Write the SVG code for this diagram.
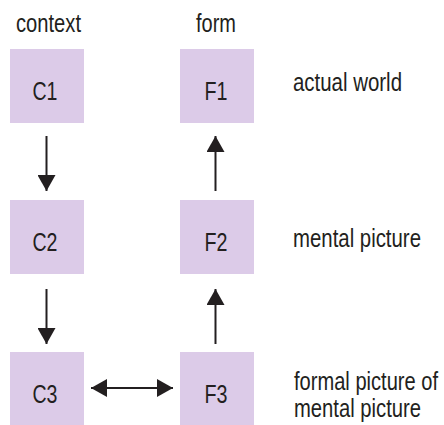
<svg xmlns="http://www.w3.org/2000/svg" width="444" height="425" viewBox="0 0 444 425">
<defs>
<style>
.box{fill:#dccbe8}
.lbl{font-family:"Liberation Sans",sans-serif;font-size:26px;fill:#231f20}
.nl{font-family:"Liberation Sans",sans-serif;font-size:25px;fill:#231f20;text-anchor:middle}
.conn{stroke:#231f20;stroke-width:2;fill:none}
</style>
<marker id="ah" viewBox="0 0 16 18" refX="16" refY="9" markerWidth="16" markerHeight="18" markerUnits="userSpaceOnUse" orient="auto-start-reverse">
<path d="M0,0 L16,9 L0,18 Z" fill="#231f20"/>
</marker>
</defs>
<rect width="444" height="425" fill="#ffffff"/>
<g transform="translate(16,32) scale(0.77,1)"><text class="lbl" x="0" y="0" textLength="84.4" lengthAdjust="spacingAndGlyphs">context</text></g>
<g transform="translate(196,32) scale(0.77,1)"><text class="lbl" x="0" y="0" textLength="51.9" lengthAdjust="spacingAndGlyphs">form</text></g>
<g transform="translate(293,91) scale(0.77,1)"><text class="lbl" x="0" y="0" textLength="141.6" lengthAdjust="spacingAndGlyphs">actual world</text></g>
<g transform="translate(293,247) scale(0.77,1)"><text class="lbl" x="0" y="0" textLength="166.2" lengthAdjust="spacingAndGlyphs">mental picture</text></g>
<g transform="translate(294,390) scale(0.77,1)"><text class="lbl" x="0" y="0"><tspan x="0" y="0" textLength="187" lengthAdjust="spacingAndGlyphs">formal picture of</tspan><tspan x="0" y="27" textLength="165" lengthAdjust="spacingAndGlyphs">mental picture</tspan></text></g>
<g id="C1"><rect class="box" x="10" y="49" width="74" height="74"/><text class="nl" x="45" y="100" textLength="25" lengthAdjust="spacingAndGlyphs">C1</text></g>
<g id="F1"><rect class="box" x="180" y="49" width="74" height="74"/><text class="nl" x="216" y="100" textLength="23" lengthAdjust="spacingAndGlyphs">F1</text></g>
<g id="C2"><rect class="box" x="10" y="200" width="74" height="74"/><text class="nl" x="45" y="251" textLength="25" lengthAdjust="spacingAndGlyphs">C2</text></g>
<g id="F2"><rect class="box" x="180" y="200" width="74" height="74"/><text class="nl" x="216" y="251" textLength="23" lengthAdjust="spacingAndGlyphs">F2</text></g>
<g id="C3"><rect class="box" x="10" y="352" width="74" height="74"/><text class="nl" x="45" y="403" textLength="25" lengthAdjust="spacingAndGlyphs">C3</text></g>
<g id="F3"><rect class="box" x="180" y="352" width="74" height="74"/><text class="nl" x="216" y="403" textLength="23" lengthAdjust="spacingAndGlyphs">F3</text></g>
<g id="connectors">
<line class="conn" x1="46.5" y1="136" x2="46.5" y2="191" marker-end="url(#ah)"/>
<line class="conn" x1="46.5" y1="289" x2="46.5" y2="344" marker-end="url(#ah)"/>
<line class="conn" x1="215.5" y1="191" x2="215.5" y2="136" marker-end="url(#ah)"/>
<line class="conn" x1="215.5" y1="344" x2="215.5" y2="289" marker-end="url(#ah)"/>
<line class="conn" x1="91" y1="388" x2="173" y2="388" marker-start="url(#ah)" marker-end="url(#ah)"/>
</g>
</svg>
